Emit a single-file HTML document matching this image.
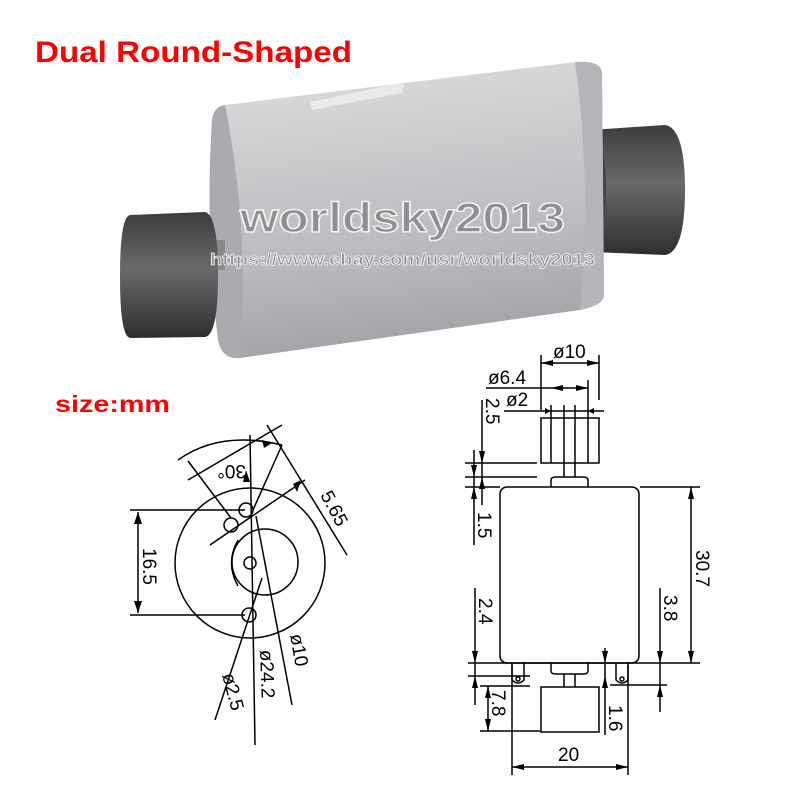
<!DOCTYPE html>
<html><head><meta charset="utf-8"><style>
html,body{margin:0;padding:0;background:#fff;}
svg{display:block;}
text{font-family:"Liberation Sans",sans-serif;}
</style></head><body>
<svg width="800" height="800" viewBox="0 0 800 800" xmlns="http://www.w3.org/2000/svg">
<defs>
<linearGradient id="body" x1="0" y1="0" x2="0.15" y2="1">
<stop offset="0" stop-color="#dcdee0"/><stop offset="0.35" stop-color="#caccce"/><stop offset="0.7" stop-color="#b8babd"/><stop offset="1" stop-color="#a2a4a8"/>
</linearGradient>
<linearGradient id="wt" x1="0" y1="0" x2="0" y2="1">
<stop offset="0" stop-color="#3c3c3e"/><stop offset="0.45" stop-color="#6a6a6c"/><stop offset="1" stop-color="#2e2e30"/>
</linearGradient>
</defs>
<rect width="800" height="800" fill="#fff"/>
<text x="35" y="62" font-size="30" font-weight="bold" fill="#f00" textLength="317" lengthAdjust="spacingAndGlyphs">Dual Round-Shaped</text>
<text x="55" y="412" font-size="23" font-weight="bold" fill="#f00" textLength="115" lengthAdjust="spacingAndGlyphs">size:mm</text>

<!-- motor photo -->
<path d="M590,130 L665,125 Q685,128 685,190 Q685,252 665,255 L592,252 Z" fill="url(#wt)"/>
<ellipse cx="592" cy="190" rx="14" ry="62" fill="#444"/>
<path d="M225,105 L575,62 Q600,60 602,72 L604,295 Q604,305 580,310 L240,358 Q222,360 218,340 Q205,230 212,120 Q214,106 225,105 Z" fill="url(#body)"/>
<path d="M575,62 Q600,60 602,72 L604,295 Q604,305 580,310 Q592,185 575,62 Z" fill="#b4b6ba"/>
<path d="M225,105 Q214,106 212,120 Q205,230 218,340 Q222,360 240,358 Q250,230 225,105 Z" fill="#a9abaf"/>
<path d="M310,102 L405,82 L402,93 L312,110 Z" fill="#e8e9ea"/>
<rect x="200" y="240" width="25" height="30" fill="#8a8a8c"/>
<path d="M130,215 L205,212 Q218,215 218,275 Q218,335 205,337 L130,338 Q120,336 120,276 Q120,217 130,215 Z" fill="url(#wt)"/>
<text x="240" y="232" font-size="42" font-weight="bold" fill="#8d8f92" stroke="#f2f2f2" stroke-width="1.5" textLength="325" lengthAdjust="spacingAndGlyphs">worldsky2013</text>
<text x="210" y="265" font-size="17" font-weight="bold" fill="#8d8f92" stroke="#f2f2f2" stroke-width="0.8" textLength="385" lengthAdjust="spacingAndGlyphs">https://www.ebay.com/usr/worldsky2013</text>

<!-- left drawing -->
<g fill="none" stroke="#000" stroke-width="1.5">
<circle cx="250" cy="563" r="75"/>
<circle cx="265" cy="562" r="33"/>
<path d="M238,540 Q225,563 238,586"/>
<circle cx="250" cy="563" r="6"/>
<circle cx="246" cy="510" r="7"/>
<circle cx="231" cy="525" r="7"/>
<circle cx="249" cy="615" r="7"/>
<line x1="250" y1="435" x2="255" y2="745"/>
<line x1="130" y1="510" x2="245" y2="510"/>
<line x1="130" y1="615" x2="245" y2="615"/>
<line x1="138" y1="512" x2="138" y2="613"/>
<line x1="188" y1="480" x2="282" y2="425"/>
<line x1="188" y1="461" x2="231" y2="518"/>
<path d="M178,460 Q220,430 282,445"/>
<line x1="210" y1="545" x2="305" y2="480"/>
<line x1="267" y1="425" x2="347" y2="555"/>
<line x1="253" y1="510" x2="282" y2="445"/>
<line x1="256" y1="516" x2="292" y2="705"/>
<line x1="262" y1="578" x2="215" y2="720"/>
</g>
<g fill="#000">
<polygon points="138,512 134,524 142,524"/><polygon points="138,613 134,601 142,601"/>
<polygon points="246,470 243,482 250,482"/>
<polygon points="301,480 297,492 293,484"/>
<polygon points="272,443 262,440 264,448"/>
</g>
<g font-size="19" fill="#000">
<text transform="translate(143,548) rotate(90)">16.5</text>
<text transform="translate(246,465) rotate(180)">30°</text>
<text transform="translate(320,495) rotate(62)">5.65</text>
<text transform="translate(222,675) rotate(75)">ø2.5</text>
<text transform="translate(260,650) rotate(88)">ø24.2</text>
<text transform="translate(290,635) rotate(80)">ø10</text>
</g>

<!-- right drawing -->
<g fill="none" stroke="#000" stroke-width="1.5">
<rect x="500" y="487" width="139" height="176" rx="7"/>
<rect x="541" y="418" width="58" height="45"/>
<rect x="541" y="687" width="58" height="45"/>
<path d="M551,487 L551,480 Q551,477 556,477 L583,477 Q588,477 588,480 L588,487"/>
<path d="M551,663 L551,671 Q551,674 556,674 L583,674 Q588,674 588,671 L588,663"/>
<line x1="564" y1="405" x2="564" y2="477"/><line x1="575" y1="405" x2="575" y2="477"/>
<line x1="551" y1="405" x2="551" y2="463"/><line x1="588" y1="380" x2="588" y2="463"/>
<line x1="564" y1="674" x2="564" y2="687"/><line x1="575" y1="674" x2="575" y2="687"/>
<path d="M512,663 L512,680 Q518,686 524,680 L524,663"/>
<path d="M616,663 L616,680 Q622,686 628,680 L628,663"/>
<circle cx="518" cy="679" r="2"/><circle cx="622" cy="679" r="2"/>
<line x1="541" y1="355" x2="541" y2="410"/><line x1="599" y1="355" x2="599" y2="400"/>
<line x1="541" y1="363" x2="599" y2="363"/>
<line x1="486" y1="388" x2="588" y2="388"/>
<line x1="504" y1="411" x2="604" y2="411"/>
<line x1="482" y1="400" x2="482" y2="505"/>
<line x1="465" y1="463" x2="537" y2="463"/>
<line x1="465" y1="477" x2="537" y2="477"/>
<line x1="465" y1="487" x2="500" y2="487"/>
<line x1="474" y1="450" x2="474" y2="545"/>
<line x1="640" y1="487" x2="700" y2="487"/>
<line x1="468" y1="663" x2="700" y2="663"/>
<line x1="691" y1="487" x2="691" y2="663"/>
<line x1="660" y1="588" x2="660" y2="712"/>
<line x1="610" y1="685" x2="667" y2="685"/>
<line x1="475" y1="588" x2="475" y2="705"/>
<line x1="468" y1="676" x2="530" y2="676"/>
<line x1="480" y1="686" x2="530" y2="686"/>
<line x1="480" y1="731" x2="540" y2="731"/>
<line x1="488" y1="686" x2="488" y2="731"/>
<line x1="605" y1="648" x2="605" y2="735"/>
<line x1="512" y1="665" x2="512" y2="775"/><line x1="628" y1="665" x2="628" y2="775"/>
<line x1="512" y1="767" x2="628" y2="767"/>
</g>
<g fill="#000">
<polygon points="541,363 553,360 553,366"/><polygon points="599,363 587,360 587,366"/>
<polygon points="551,388 563,385 563,391"/><polygon points="588,388 576,385 576,391"/>
<polygon points="551,411 545,408 545,414"/><polygon points="588,411 594,408 594,414"/>
<polygon points="482,463 479,451 485,451"/><polygon points="482,477 479,489 485,489"/>
<polygon points="474,477 471,465 477,465"/><polygon points="474,487 471,499 477,499"/>
<polygon points="691,487 688,499 694,499"/><polygon points="691,663 688,651 694,651"/>
<polygon points="660,663 657,651 663,651"/><polygon points="660,685 657,697 663,697"/>
<polygon points="475,663 472,651 478,651"/><polygon points="475,676 472,688 478,688"/>
<polygon points="488,686 485,698 491,698"/><polygon points="488,731 485,719 491,719"/>
<polygon points="605,663 602,651 608,651"/><polygon points="605,676 602,688 608,688"/>
<polygon points="512,767 524,764 524,770"/><polygon points="628,767 616,764 616,770"/>
</g>
<g font-size="19" fill="#000">
<text x="553" y="358">ø10</text>
<text x="488" y="384">ø6.4</text>
<text x="506" y="406">ø2</text>
<text transform="translate(486,398) rotate(90)">2.5</text>
<text transform="translate(478,512) rotate(90)">1.5</text>
<text transform="translate(696,550) rotate(90)">30.7</text>
<text transform="translate(664,595) rotate(90)">3.8</text>
<text transform="translate(479,598) rotate(90)">2.4</text>
<text transform="translate(492,690) rotate(90)">7.8</text>
<text transform="translate(609,705) rotate(90)">1.6</text>
<text x="558" y="761">20</text>
</g>
</svg>
</body></html>
